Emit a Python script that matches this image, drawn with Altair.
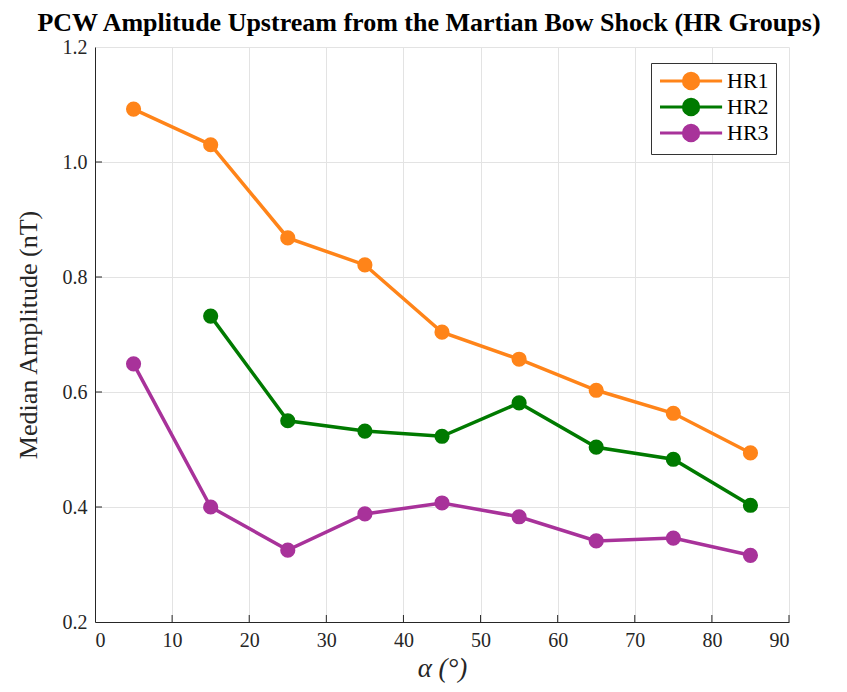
import altair as alt
import pandas as pd

alpha_hr1 = [5, 15, 25, 35, 45, 55, 65, 75, 85]
hr1 = [1.092, 1.030, 0.868, 0.821, 0.704, 0.657, 0.603, 0.563, 0.494]
alpha_hr2 = [15, 25, 35, 45, 55, 65, 75, 85]
hr2 = [0.732, 0.550, 0.532, 0.523, 0.581, 0.504, 0.483, 0.403]
alpha_hr3 = [5, 15, 25, 35, 45, 55, 65, 75, 85]
hr3 = [0.649, 0.400, 0.325, 0.388, 0.407, 0.383, 0.341, 0.346, 0.316]
groups = ["HR1", "HR2", "HR3"]
colors = ["#FF8419", "#007A00", "#A8329A"]
x_ticks = [0, 10, 20, 30, 40, 50, 60, 70, 80, 90]
y_ticks = [0.2, 0.4, 0.6, 0.8, 1.0, 1.2]

rows = []
for g, xs, ys in zip(groups, [alpha_hr1, alpha_hr2, alpha_hr3], [hr1, hr2, hr3]):
    for a, v in zip(xs, ys):
        rows.append({"alpha": a, "amp": v, "group": g})
df = pd.DataFrame(rows)

FONT = "Liberation Serif"
W, H = 694, 575

xscale = alt.Scale(domain=[0, 90], nice=False)
yscale = alt.Scale(domain=[0.2, 1.2], nice=False)

sym_path = "M-1,0L5.9,0M1.6,0A0.85,0.85,0,1,1,3.3,0A0.85,0.85,0,1,1,1.6,0Z"

legend = alt.Legend(
    title=None,
    orient="none",
    legendX=556,
    legendY=16,
    symbolType=sym_path,
    symbolSize=324,
    symbolStrokeWidth=3,
    symbolOpacity=1,
    labelOffset=47,
    labelFont=FONT,
    labelFontSize=22,
    labelColor="#000000",
    rowPadding=-2,
    padding=7,
    strokeColor="#333333",
    fillColor="#ffffff",
    cornerRadius=0,
)
cscale = alt.Scale(domain=groups, range=colors)

xaxis = alt.Axis(values=x_ticks, title="α (°)", grid=True, tickSize=0,
                 labelPadding=8, format="d", titleFontStyle="italic")
yaxis = alt.Axis(values=y_ticks, title="Median Amplitude (nT)", grid=True, tickSize=0,
                 labelPadding=8, format=".1f", titleFontSize=26)

base = alt.Chart(df)
lines = base.mark_line(strokeWidth=3.5).encode(
    x=alt.X("alpha:Q", scale=xscale, axis=xaxis),
    y=alt.Y("amp:Q", scale=yscale, axis=yaxis),
    color=alt.Color("group:N", scale=cscale, legend=legend),
)
points = base.mark_point(filled=True, size=230, opacity=1, shape="circle").encode(
    x=alt.X("alpha:Q", scale=xscale),
    y=alt.Y("amp:Q", scale=yscale),
    color=alt.Color("group:N", scale=cscale, legend=legend),
)

xt = alt.Chart(pd.DataFrame({"t": x_ticks[1:]})).mark_rule(color="#262626", strokeWidth=1).encode(
    x=alt.X("t:Q", scale=xscale), y=alt.value(H), y2=alt.value(H - 7))
yt = alt.Chart(pd.DataFrame({"t": y_ticks[1:-1]})).mark_rule(color="#262626", strokeWidth=1).encode(
    y=alt.Y("t:Q", scale=yscale), x=alt.value(0), x2=alt.value(7))

chart = alt.layer(lines, points, xt, yt).properties(
    width=W,
    height=H,
    autosize=alt.AutoSizeParams(type="none"),
    padding={"left": 87, "top": 39, "right": 50, "bottom": 62},
    title=alt.TitleParams(
        "PCW Amplitude Upstream from the Martian Bow Shock (HR Groups)",
        font=FONT, fontSize=26, fontWeight="bold", color="#000000",
        anchor="middle", dx=-13, offset=1,
    ),
).configure_view(stroke=None).configure_axis(
    labelFont=FONT, labelFontSize=20, labelColor="#262626",
    titleFont=FONT, titleFontSize=27, titleColor="#262626", titleFontWeight="normal",
    domainColor="#262626", domainWidth=1,
    gridColor="#e3e3e3", gridWidth=1,
).configure_axisX(titlePadding=5).configure_axisY(titlePadding=21)

chart.save("out.html", embed_options={"renderer": "svg", "actions": False})
